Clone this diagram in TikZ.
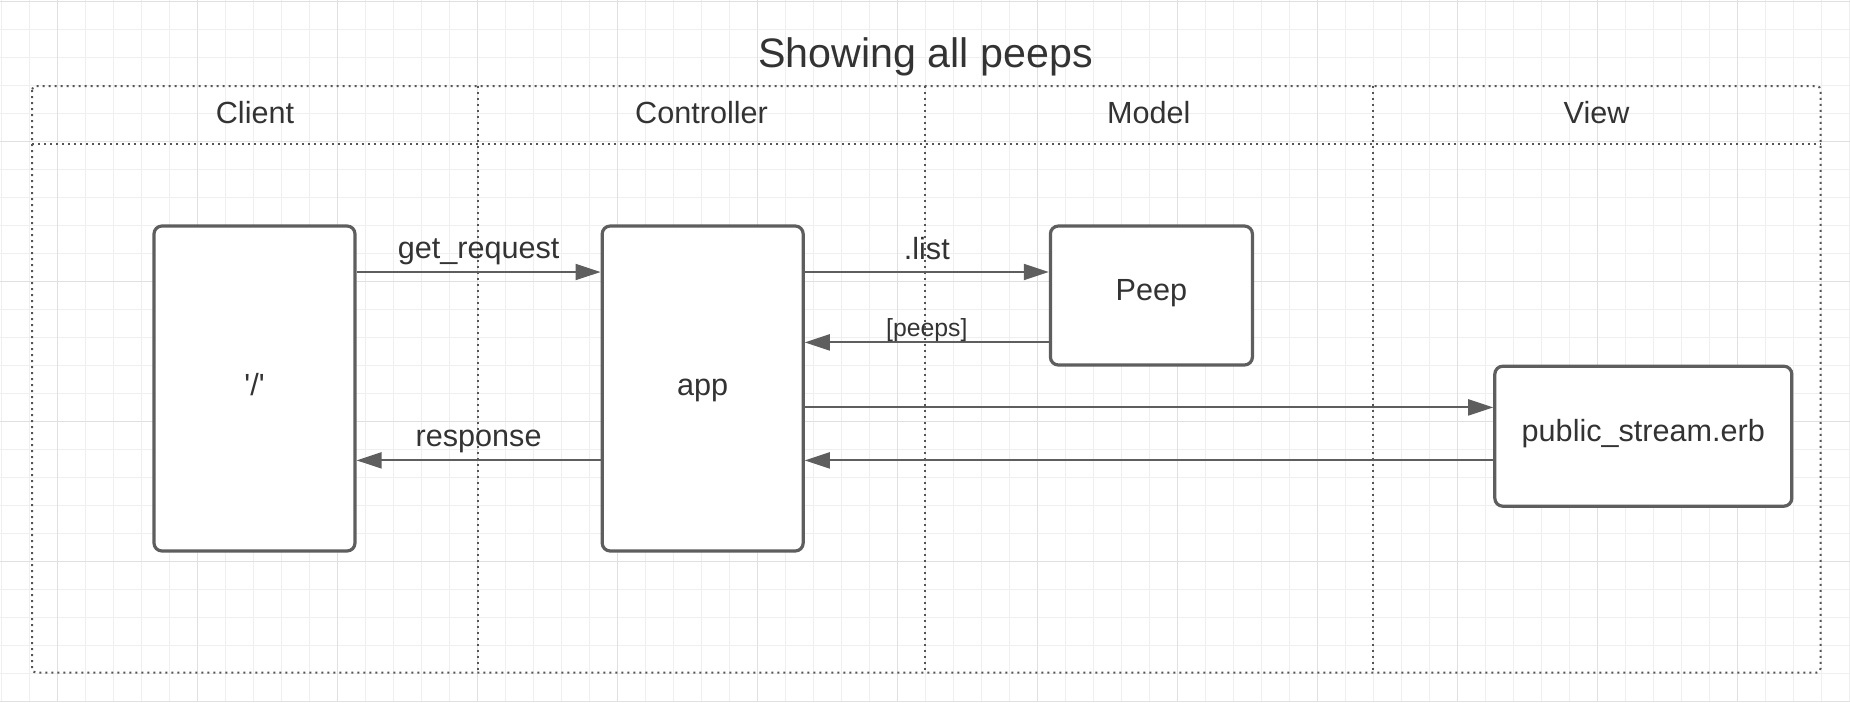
\documentclass[tikz,border=0pt]{standalone}
\usepackage{fontspec}
\setmainfont{Liberation Sans}
\usepackage{xcolor}
\usetikzlibrary{arrows.meta,positioning}

\definecolor{linegray}{HTML}{5E5E5E}
\definecolor{textgray}{HTML}{333333}
\definecolor{dotgray}{HTML}{555555}
\definecolor{gridminor}{HTML}{EFEFEF}
\definecolor{gridmajor}{HTML}{E0E0E0}

\begin{document}
\begin{tikzpicture}[
  x=0.5pt, y=-0.5pt,
  node distance=122pt,
  block/.style={rectangle, rounded corners=4pt, draw=linegray, fill=white,
                line width=1.6pt, inner sep=0pt, text=textgray,
                text height=8pt, text depth=3.2pt,
                font=\fontsize{15.3}{18}\selectfont},
  tallblock/.style={block, text height=9.7pt,
                    minimum width=100.5pt, minimum height=162.5pt},
  arrow/.style={-{Triangle[length=12.5pt, width=8pt]}, line width=1pt, linegray},
  lbl/.style={anchor=base, inner sep=0pt, text=textgray,
              font=\fontsize{15.3}{18}\selectfont},
  lane/.style={draw=dotgray, line width=1pt, dash pattern=on 1pt off 2pt},
  lanehead/.style={anchor=base, inner sep=0pt, text=textgray,
                   font=\fontsize{15.3}{18}\selectfont},
  title/.style={anchor=base, inner sep=0pt, text=textgray,
                font=\fontsize{20.6}{24}\selectfont}
]
\useasboundingbox (0,0) rectangle (1850,702);

% background grid
\foreach \k in {0,...,66} \draw[gridminor, line width=0.5pt] (1+28*\k,0) -- (1+28*\k,702);
\foreach \k in {0,...,25} \draw[gridminor, line width=0.5pt] (0,1+28*\k) -- (1850,1+28*\k);
\foreach \k in {0,...,12} \draw[gridmajor, line width=0.5pt] (57+140*\k,0) -- (57+140*\k,702);
\foreach \k in {0,...,5} \draw[gridmajor, line width=0.5pt] (0,1+140*\k) -- (1850,1+140*\k);

% swimlanes
\node[title] (title) at (925.5,67.5) {Showing all peeps};
\draw[lane, rounded corners=2pt] (32,86) rectangle (1820.5,672.6);
\draw[lane] (32,144) -- (1820.5,144);
\foreach \x in {478,925,1372.5} \draw[lane] (\x,86) -- (\x,672.6);
\foreach \x/\name in {255/Client, 701.5/Controller, 1148.75/Model, 1596.5/View}
  \node[lanehead] (head\name) at (\x,123.3) {\name};

% blocks
\node[tallblock] (client) at (254.5,388.5) {\textquotesingle/\textquotesingle};
\node[tallblock, right=of client] (app) {app};
\node[block, minimum width=101pt, minimum height=69.5pt,
      right=122pt of app.north east, anchor=north west] (peep) {Peep};
\node[block, minimum width=148.5pt, minimum height=70pt] (view) at (1643.3,436.2) {public\_stream.erb};

% rows of the arrows to and from the view
\coordinate (rowrender) at ([yshift=-91.5pt]app.north east);
\coordinate (rowreturn) at ([yshift=-118pt]app.north east);

\draw[arrow] ([yshift=-23.8pt]client.north east) -- ([yshift=-23.8pt]app.north west)
  node[lbl, midway, yshift=6.7pt] (lblrequest) {get\_request};
\draw[arrow] ([yshift=-23.8pt]app.north east) -- ([yshift=-23.8pt]peep.north west)
  node[lbl, midway, yshift=6.4pt] (lbllist) {.list};
\draw[arrow] ([yshift=-59pt]peep.north west) -- ([yshift=-59pt]app.north east)
  node[lbl, midway, yshift=2.8pt, font=\fontsize{12.4}{15}\selectfont] (lblpeeps) {[peeps]};
\draw[arrow] (rowrender) -- (rowrender -| view.west);
\draw[arrow] (rowreturn -| view.west) -- (rowreturn);
\draw[arrow] ([yshift=-118pt]app.north west) -- ([yshift=-118pt]client.north east)
  node[lbl, midway, yshift=7pt] (lblresponse) {response};
\end{tikzpicture}
\end{document}
